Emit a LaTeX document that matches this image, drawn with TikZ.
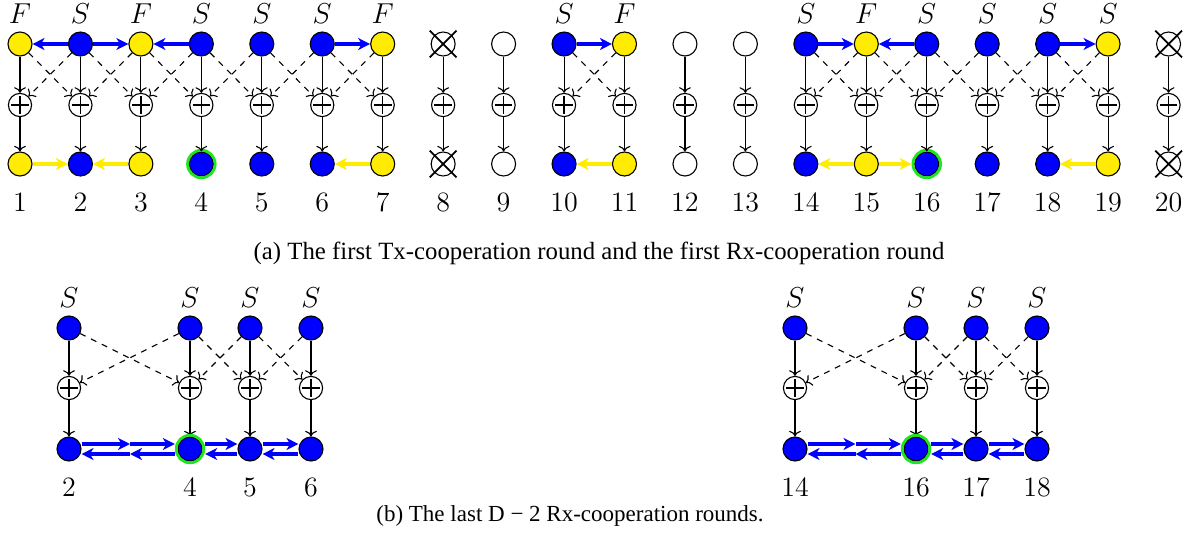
\documentclass[tikz,border=0pt]{standalone}
\usepackage{fontspec}
\newfontfamily\capfont{Liberation Serif}
\usetikzlibrary{arrows.meta,shapes.misc,calc}
\definecolor{txyellow}{RGB}{255,236,0}
\definecolor{txblue}{RGB}{0,0,255}
\definecolor{ringgreen}{RGB}{30,230,30}

\begin{document}
\begin{tikzpicture}[x=0.5pt,y=0.5pt,yscale=-1,xscale=1,line width=0.55pt,
  user/.style={circle,draw,minimum size=12pt,inner sep=0pt},
  dead/.style={user,label={[cross out,draw,line width=0.9pt,minimum size=12.5pt,inner sep=0pt]center:{}}},
  adder/.style={circle,draw,minimum size=11.6pt,inner sep=0pt,
    path picture={\draw[line width=0.6pt] (path picture bounding box.center) +(-4.4pt,0) -- +(4.4pt,0) +(0,-4.4pt) -- +(0,4.4pt);}},
  ring/.style={circle,draw=ringgreen,line width=1.4pt,minimum size=13.8pt,inner sep=0pt},
  state/.style={font=\fontsize{14}{16}\selectfont},
  index/.style={font=\fontsize{14}{16}\selectfont},
  caption/.style={font=\capfont\fontsize{12.4}{14}\selectfont},
  barrow/.style={txblue,line width=1.7pt,-{Stealth[length=6pt,width=6pt,inset=1.8pt]}},
  yarrow/.style={barrow,txyellow}]
\useasboundingbox (0,0) rectangle (1190,536);

% (a) first Tx- and Rx-cooperation round
\foreach \i/\c/\l in {1/txyellow/F,2/txblue/S,3/txyellow/F,4/txblue/S,5/txblue/S,6/txblue/S,7/txyellow/F,
  10/txblue/S,11/txyellow/F,14/txblue/S,15/txyellow/F,16/txblue/S,17/txblue/S,18/txblue/S,19/txyellow/S}{
  \node[user,fill=\c] (tx\i) at ({20+60.45*(\i-1)},44) {};
  \node[user,fill=\c] (rx\i) at ({20+60.45*(\i-1)},164) {};
  \node[state] (st\i) at ({20+60.45*(\i-1)},14) {$\l$};
}
\foreach \i in {9,12,13}{
  \node[user] (tx\i) at ({20+60.45*(\i-1)},44) {};
  \node[user] (rx\i) at ({20+60.45*(\i-1)},164) {};
}
\foreach \i in {8,20}{
  \node[dead] (tx\i) at ({20+60.45*(\i-1)},44) {};
  \node[dead] (rx\i) at ({20+60.45*(\i-1)},164) {};
}
\node[ring] (gx4) at (rx4) {};
\node[ring] (gx16) at (rx16) {};
\foreach \i in {1,...,20}{
  \node[adder] (ad\i) at ({20+60.45*(\i-1)},105) {};
  \node[index] (id\i) at ({20+60.45*(\i-1)},202) {\i};
  \draw[->] (tx\i) -- (ad\i);
  \draw[->] (ad\i) -- (rx\i);
}
% neighbour links
\foreach \a/\b in {1/2,2/3,3/4,4/5,5/6,6/7,10/11,14/15,15/16,16/17,17/18,18/19}{
  \draw[dashed,->] (tx\a) -- (ad\b);
  \draw[dashed,->] (tx\b) -- (ad\a);
}
\foreach \a/\b in {2/1,2/3,4/3,6/7,10/11,14/15,16/15,18/19}
  \draw[barrow] (tx\a) -- (tx\b);
\foreach \a/\b in {rx1/rx2,rx3/rx2,rx7/rx6,rx11/rx10,rx15/rx14,rx15/gx16,rx19/rx18}
  \draw[yarrow] (\a) -- (\b);
\node[caption] (capa) at (599,253) {(a) The first Tx-cooperation round and the first Rx-cooperation round};

% (b) last D-2 Rx-cooperation rounds
\foreach \i/\x in {2/69,4/190,5/250,6/311,14/795,16/916,17/976,18/1037}{
  \node[user,fill=txblue] (btx\i) at (\x,328) {};
  \node[adder] (bad\i) at (\x,388) {};
  \node[user,fill=txblue] (brx\i) at (\x,449) {};
  \node[state] (bst\i) at (\x,298) {$S$};
  \node[index] (bid\i) at (\x,487) {\i};
  \draw[->] (btx\i) -- (bad\i);
  \draw[->] (bad\i) -- (brx\i);
}
\node[ring] (bgx4) at (brx4) {};
\node[ring] (bgx16) at (brx16) {};
\node[inner sep=0pt,outer sep=0pt,minimum size=0pt] (bm3) at (130,449) {};
\node[inner sep=0pt,outer sep=0pt,minimum size=0pt] (bm15) at (855.5,449) {};
\foreach \a/\b in {2/4,4/5,5/6,14/16,16/17,17/18}{
  \draw[dashed,->] (btx\a) -- (bad\b);
  \draw[dashed,->] (btx\b) -- (bad\a);
}
\foreach \a/\b in {brx2/bm3,bm3/bgx4,bgx4/brx5,brx5/brx6,brx14/bm15,bm15/bgx16,bgx16/brx17,brx17/brx18}{
  \draw[barrow] ($(\a.east)+(0,-5)$) -- ($(\b.west)+(0,-5)$);
  \draw[barrow] ($(\b.west)+(0,5)$) -- ($(\a.east)+(0,5)$);
}
\node[caption,font=\capfont\fontsize{11.5}{14}\selectfont] (capb) at (570,516) {(b) The last D − 2 Rx-cooperation rounds.};

\end{tikzpicture}
\end{document}
